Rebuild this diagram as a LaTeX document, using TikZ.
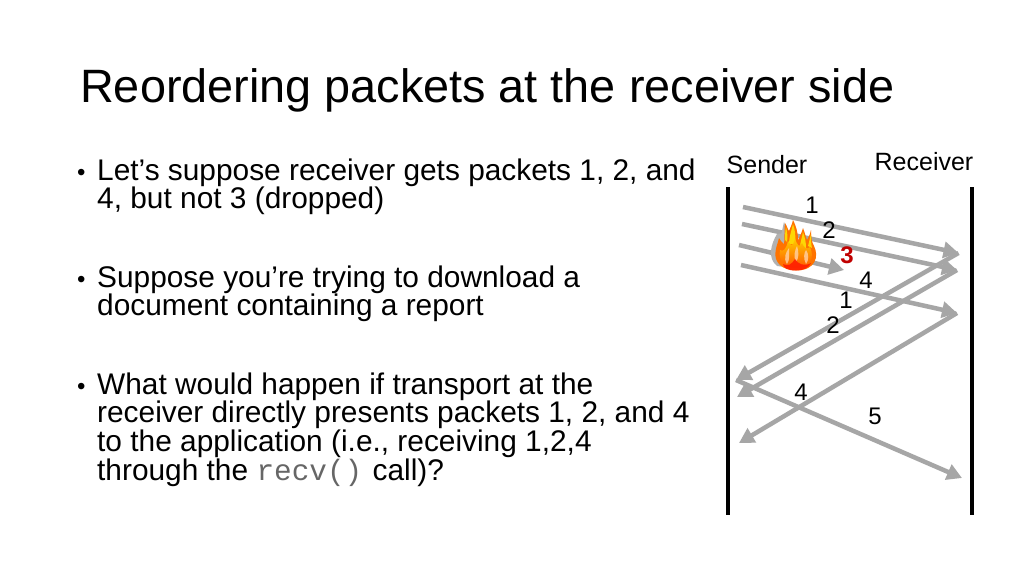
\documentclass[tikz,border=0pt]{standalone}
\usepackage{fontspec}
\setmainfont{Liberation Sans}
\setmonofont{Liberation Mono}
\usetikzlibrary{arrows.meta}
\definecolor{arrowgray}{HTML}{A6A6A6}
\definecolor{dropred}{HTML}{C00000}
\tikzset{
  x=1pt,y=-1pt,
  title/.style={anchor=base west,inner sep=0,font=\fontsize{46.8}{54}\selectfont},
  body/.style={anchor=north west,inner sep=0,align=left,font=\fontsize{29.85}{28.6}\selectfont},
  bullet/.style={anchor=base west,inner sep=0,font=\fontsize{24}{28.6}\selectfont},
  timeline/.style={line width=4.5pt,black},
  packet/.style={line width=4.5pt,arrowgray,-{Triangle[length=15pt,width=16pt]}},
  num/.style={inner sep=0,font=\fontsize{24}{26}\selectfont},
  who/.style={inner sep=0,font=\fontsize{25}{27}\selectfont},
}
\begin{document}
\begin{tikzpicture}
\useasboundingbox (0,0) rectangle (1024,576);
\fill[white] (0,0) rectangle (1024,576);
\node[title] (t) at (80,102) {Reordering packets at the receiver side};
\node[bullet] (b1) at (77,180) {•};
\node[body] (p1) at (97,158.5) {Let’s suppose receiver gets packets 1, 2, and\\4, but not 3 (dropped)};
\node[bullet] (b2) at (77,287) {•};
\node[body] (p2) at (97,265.5) {Suppose you’re trying to download a\\document containing a report};
\node[bullet] (b3) at (77,394) {•};
\node[body] (p3) at (97,372.5) {What would happen if transport at the\\receiver directly presents packets 1, 2, and 4\\to the application (i.e., receiving 1,2,4\\through the {\fontsize{29.4}{28.6}\selectfont\ttfamily\color{black!60} recv()}\hspace{2pt} call)?};
\node[who] (snd) at (767,165) {Sender};
\node[who] (rcv) at (924,162) {Receiver};
\coordinate (s0) at (728,187); \coordinate (s1) at (728,515);
\coordinate (r0) at (972,187); \coordinate (r1) at (972,515);
\draw[timeline] (s0) -- (s1);
\draw[timeline] (r0) -- (r1);
\coordinate (a1) at (743,207); \coordinate (a2) at (958.5,253);
\coordinate (c1) at (742,224); \coordinate (c2) at (957,270);
\coordinate (d1) at (739,245); \coordinate (d2) at (844,270);
\coordinate (e1) at (741,265); \coordinate (e2) at (957,313);
\coordinate (f) at (736,380); \coordinate (g) at (737,397); \coordinate (h) at (739,443);
\coordinate (i) at (962,478);
\draw[packet] (a1) -- (a2);
\draw[packet] (c1) -- (c2);
\draw[packet] (d1) -- (d2);
\draw[packet] (e1) -- (e2);
\draw[packet] (a2) -- (f);
\draw[packet] (c2) -- (g);
\draw[packet] (e2) -- (h);
\draw[packet] (f) -- (i);
% fire
\fill[gray!60] (777,234) .. controls (771,244) and (767,258) .. (777,266) -- (792,268) -- (792,232) -- cycle;
\fill[gray!60] (784,222) -- (790,240) -- (780,240) -- cycle;
% outer flame
\fill[orange!90!red]
 (796,270.5) .. controls (782,270.5) and (774,262) .. (775.5,252)
 .. controls (776,246) and (778,243) .. (779,238)
 .. controls (781,241) and (782,243) .. (784,244)
 .. controls (785,236) and (784,230) .. (785,223)
 .. controls (787,226) and (788,230) .. (789,231)
 .. controls (790,228) and (792,225) .. (793,220)
 .. controls (796,226) and (798,232) .. (798,240)
 .. controls (800,236) and (802,232) .. (803,228)
 .. controls (805,233) and (806,238) .. (807,240)
 .. controls (809,237) and (810,234) .. (811,230)
 .. controls (811,238) and (812,243) .. (814,246)
 .. controls (819,256) and (816,270.5) .. (796,270.5) -- cycle;
% yellow tips
\fill[yellow!75!orange] (793,224) .. controls (795,230) and (796,236) .. (795,244) -- (789,244) .. controls (789,238) and (791,232) .. (793,224) -- cycle;
\fill[yellow!75!orange] (786,227) .. controls (787,232) and (788,236) .. (787,242) -- (785,240) .. controls (785,236) and (785,232) .. (786,227) -- cycle;
\fill[yellow!75!orange] (803,232) .. controls (805,238) and (806,242) .. (806,248) -- (800,248) .. controls (800,242) and (802,238) .. (803,232) -- cycle;
\fill[yellow!75!orange] (811,234) .. controls (811,240) and (811,244) .. (812,248) -- (808,246) .. controls (809,242) and (810,238) .. (811,234) -- cycle;
% inner light body
\shade[top color=yellow!60!orange,bottom color=orange!70!red,draw=none]
 (796,268) .. controls (784,268) and (778,260) .. (780,250)
 .. controls (783,252) and (786,250) .. (788,241)
 .. controls (791,246) and (793,248) .. (795,238)
 .. controls (797,246) and (800,248) .. (802,243)
 .. controls (804,248) and (807,250) .. (810,247)
 .. controls (815,258) and (810,268) .. (796,268) -- cycle;
% peach highlights
\fill[orange!35!white,opacity=.8] (787,264) .. controls (783,258) and (786,252) .. (789,248) .. controls (789,254) and (790,260) .. (787,264) -- cycle;
\fill[orange!35!white,opacity=.8] (796,262) .. controls (793,256) and (795,250) .. (797,246) .. controls (799,252) and (799,258) .. (796,262) -- cycle;
\fill[orange!35!white,opacity=.8] (806,264) .. controls (803,258) and (804,253) .. (806,250) .. controls (809,254) and (809,260) .. (806,264) -- cycle;
% red base
\fill[red!80!orange,opacity=.85] (796,270.5) .. controls (788,270.5) and (783,268) .. (783,264)
 .. controls (788,267) and (792,264) .. (795,259) .. controls (798,264) and (804,267) .. (811,263)
 .. controls (809,268) and (803,270.5) .. (796,270.5) -- cycle;
\node[num] (n1) at (812,205) {1};
\node[num] (n2) at (829,230) {2};
\node[num,text=dropred,font=\fontsize{24}{26}\selectfont\bfseries] (n3) at (847,255) {3};
\node[num] (n4) at (866,280) {4};
\node[num] (m1) at (846,300) {1};
\node[num] (m2) at (833,325) {2};
\node[num] (m4) at (801,392) {4};
\node[num] (n5) at (875,416) {5};
\end{tikzpicture}
\end{document}
